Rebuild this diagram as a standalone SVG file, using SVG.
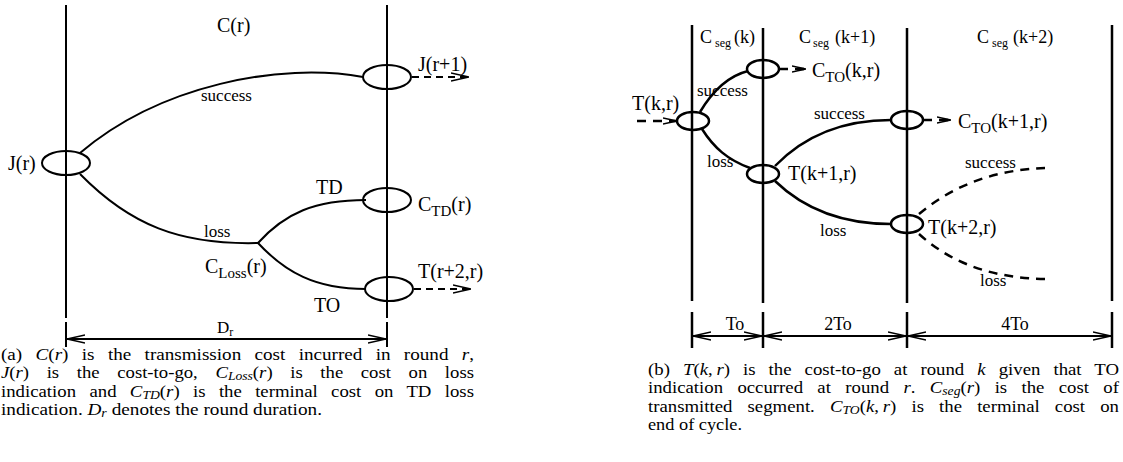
<svg xmlns="http://www.w3.org/2000/svg" width="1123" height="462" viewBox="0 0 1123 462">
<style>
text{font-family:"Liberation Serif","Times New Roman",serif;fill:#000}
.l{font-size:20px}
.e{font-size:17px}
.s{font-size:15px}
.cap{font-size:16.5px}
.m{font-style:italic}
.ln{fill:none;stroke:#000;stroke-width:2}
.lnr{fill:none;stroke:#000;stroke-width:2.5}
.dash{fill:none;stroke:#000;stroke-width:2;stroke-dasharray:7,5}
.dashr{fill:none;stroke:#000;stroke-width:2.5;stroke-dasharray:9,7}
.node{fill:none;stroke:#000;stroke-width:2}
.noder{fill:none;stroke:#000;stroke-width:2.5}
</style>
<defs>
<marker id="ah" viewBox="0 0 18 10" refX="18" refY="5" markerWidth="18" markerHeight="10" markerUnits="userSpaceOnUse" orient="auto-start-reverse"><path d="M0,1 L18,5 L0,9" fill="none" stroke="#000" stroke-width="1.4" stroke-dasharray="none"/></marker>
<marker id="ahs" viewBox="0 0 14 8" refX="14" refY="4" markerWidth="14" markerHeight="8" markerUnits="userSpaceOnUse" orient="auto"><path d="M0,1 L14,4 L0,7" fill="none" stroke="#000" stroke-width="1.6" stroke-dasharray="none"/></marker>
</defs>

<!-- Panel (a) frame lines -->
<g id="a-frame">
<line class="ln" x1="66" y1="5" x2="66" y2="318"/>
<line class="ln" x1="387" y1="5" x2="387" y2="318"/>
<line class="ln" x1="66" y1="322" x2="66" y2="347"/>
<line class="ln" x1="387" y1="322" x2="387" y2="347"/>
<line x1="67" y1="339" x2="386" y2="339" stroke="#000" stroke-width="2" marker-start="url(#ah)" marker-end="url(#ah)"/>
<text class="l" x="217" y="32">C(r)</text>
<text x="217" y="333" font-size="17">D<tspan font-size="12" dy="3">r</tspan></text>
</g>

<g id="a-connectors">
<path class="ln" d="M80,153 C160,85 280,62 363,77"/>
<path class="ln" d="M80,174 C130,225 180,245 258,243"/>
<path class="ln" d="M258,243 C285,213 315,200 366,200"/>
<path class="ln" d="M258,243 C285,272 315,289 366,289"/>
<path class="dash" d="M412,77 H469" marker-end="url(#ah)"/>
<path class="dash" d="M414,289 H471" marker-end="url(#ah)"/>
<text class="e" x="201" y="101">success</text>
<text class="e" x="204" y="237">loss</text>
<text class="l" x="316" y="194">TD</text>
<text class="l" x="314" y="312">TO</text>
<text class="l" x="205" y="273">C<tspan class="s" dy="5">Loss</tspan><tspan dy="-5">(r)</tspan></text>
</g>

<g id="a-Jr"><ellipse class="node" cx="66" cy="163" rx="24" ry="12"/><text class="l" x="8" y="170">J(r)</text></g>
<g id="a-Jr1"><ellipse class="node" cx="387" cy="77" rx="24" ry="12"/><text class="l" x="418" y="71">J(r+1)</text></g>
<g id="a-CTD"><ellipse class="node" cx="387" cy="200" rx="24" ry="12"/><text class="l" x="418" y="211">C<tspan class="s" dy="5">TD</tspan><tspan dy="-5">(r)</tspan></text></g>
<g id="a-Tr2"><ellipse class="node" cx="389" cy="289" rx="24" ry="12"/><text class="l" x="418" y="278">T(r+2,r)</text></g>

<!-- Panel (b) frame -->
<g id="b-frame">
<line class="lnr" x1="692" y1="25" x2="692" y2="301"/>
<line class="lnr" x1="763" y1="28" x2="763" y2="303"/>
<line class="lnr" x1="907" y1="28" x2="907" y2="303"/>
<line class="lnr" x1="1112" y1="25" x2="1112" y2="301"/>
<line class="lnr" x1="692" y1="312" x2="692" y2="348"/>
<line class="lnr" x1="763" y1="312" x2="763" y2="348"/>
<line class="lnr" x1="907" y1="312" x2="907" y2="348"/>
<line class="lnr" x1="1112" y1="312" x2="1112" y2="348"/>
<line x1="693" y1="336" x2="762" y2="336" stroke="#000" stroke-width="2" marker-start="url(#ah)" marker-end="url(#ah)"/>
<line x1="764" y1="336" x2="906" y2="336" stroke="#000" stroke-width="2" marker-start="url(#ah)" marker-end="url(#ah)"/>
<line x1="908" y1="336" x2="1111" y2="336" stroke="#000" stroke-width="2" marker-start="url(#ah)" marker-end="url(#ah)"/>
<text font-size="18" x="735" y="330" text-anchor="middle">To</text>
<text font-size="18" x="838" y="330" text-anchor="middle">2To</text>
<text font-size="18" x="1015" y="330" text-anchor="middle">4To</text>
<text font-size="18" x="700" y="43">C<tspan font-size="12" x="715" dy="4">seg</tspan><tspan x="734" dy="-4">(k)</tspan></text>
<text font-size="18" x="799" y="43">C<tspan font-size="12" x="813" dy="4">seg</tspan><tspan x="835" dy="-4">(k+1)</tspan></text>
<text font-size="18" x="977" y="43">C<tspan font-size="12" x="992" dy="4">seg</tspan><tspan x="1013" dy="-4">(k+2)</tspan></text>
</g>

<g id="b-connectors">
<path class="dashr" d="M637,121 H677" marker-end="url(#ahs)"/>
<path class="lnr" d="M700,112 C712,92 728,76 748,71"/>
<path class="lnr" d="M702,129 C714,148 728,160 750,168"/>
<path class="lnr" d="M775,166 C805,135 845,120 891,120"/>
<path class="lnr" d="M775,181 C805,210 845,224 891,224"/>
<path class="dashr" d="M919,214 C950,188 990,170 1045,168"/>
<path class="dashr" d="M919,234 C950,262 990,278 1045,279"/>
<path class="dashr" d="M779,69 H806" marker-end="url(#ahs)"/>
<path class="dashr" d="M923,120 H951" marker-end="url(#ahs)"/>
<text class="e" x="697" y="96">success</text>
<text class="e" x="707" y="167">loss</text>
<text class="e" x="814" y="119">success</text>
<text class="e" x="820" y="236">loss</text>
<text class="e" x="965" y="168">success</text>
<text class="e" x="980" y="286">loss</text>
</g>

<g id="b-Tk"><ellipse class="noder" cx="693" cy="121" rx="16" ry="9"/><text class="l" x="632" y="110">T(k,r)</text></g>
<g id="b-CTOk"><ellipse class="noder" cx="763" cy="69" rx="16" ry="9"/><text class="l" x="812" y="77">C<tspan class="s" dy="5">TO</tspan><tspan dy="-5">(k,r)</tspan></text></g>
<g id="b-Tk1"><ellipse class="noder" cx="763" cy="174" rx="16" ry="9"/><text class="l" x="788" y="180">T(k+1,r)</text></g>
<g id="b-CTOk1"><ellipse class="noder" cx="907" cy="120" rx="16" ry="9"/><text class="l" x="958" y="128">C<tspan class="s" dy="5">TO</tspan><tspan dy="-5">(k+1,r)</tspan></text></g>
<g id="b-Tk2"><ellipse class="noder" cx="907" cy="224" rx="16" ry="9"/><text class="l" x="928" y="234">T(k+2,r)</text></g>

<!-- Captions -->
<g id="caption-a">
<text class="cap" x="1" y="360" textLength="473" lengthAdjust="spacingAndGlyphs" word-spacing="7.4">(a) <tspan class="m">C</tspan>(<tspan class="m">r</tspan>) is the transmission cost incurred in round <tspan class="m">r</tspan>,</text>
<text class="cap" x="1" y="378" textLength="473" lengthAdjust="spacingAndGlyphs" word-spacing="11.4"><tspan class="m">J</tspan>(<tspan class="m">r</tspan>) is the cost-to-go, <tspan class="m">C</tspan><tspan class="m" font-size="12" dy="2">Loss</tspan><tspan dy="-2">(</tspan><tspan class="m">r</tspan>) is the cost on loss</text>
<text class="cap" x="1" y="397" textLength="473" lengthAdjust="spacingAndGlyphs" word-spacing="7.6">indication and <tspan class="m">C</tspan><tspan class="m" font-size="12" dy="2">TD</tspan><tspan dy="-2">(</tspan><tspan class="m">r</tspan>) is the terminal cost on TD loss</text>
<text class="cap" x="1" y="415" textLength="321" lengthAdjust="spacingAndGlyphs">indication. <tspan class="m">D</tspan><tspan class="m" font-size="12" dy="2">r</tspan><tspan dy="-2"> denotes the round duration.</tspan></text>
</g>
<g id="caption-b">
<text class="cap" x="648" y="375" textLength="471" lengthAdjust="spacingAndGlyphs" word-spacing="7.3">(b) <tspan class="m">T</tspan>(<tspan class="m">k</tspan>,&#8201;<tspan class="m">r</tspan>) is the cost-to-go at round <tspan class="m">k</tspan> given that TO</text>
<text class="cap" x="648" y="393" textLength="471" lengthAdjust="spacingAndGlyphs" word-spacing="8.5">indication occurred at round <tspan class="m">r</tspan>. <tspan class="m">C</tspan><tspan class="m" font-size="12" dy="2">seg</tspan><tspan dy="-2">(</tspan><tspan class="m">r</tspan>) is the cost of</text>
<text class="cap" x="648" y="412" textLength="471" lengthAdjust="spacingAndGlyphs" word-spacing="9.2">transmitted segment. <tspan class="m">C</tspan><tspan class="m" font-size="12" dy="2">TO</tspan><tspan dy="-2">(</tspan><tspan class="m">k</tspan>,&#8201;<tspan class="m">r</tspan>) is the terminal cost on</text>
<text class="cap" x="648" y="430" textLength="94" lengthAdjust="spacingAndGlyphs">end of cycle.</text>
</g>
</svg>
